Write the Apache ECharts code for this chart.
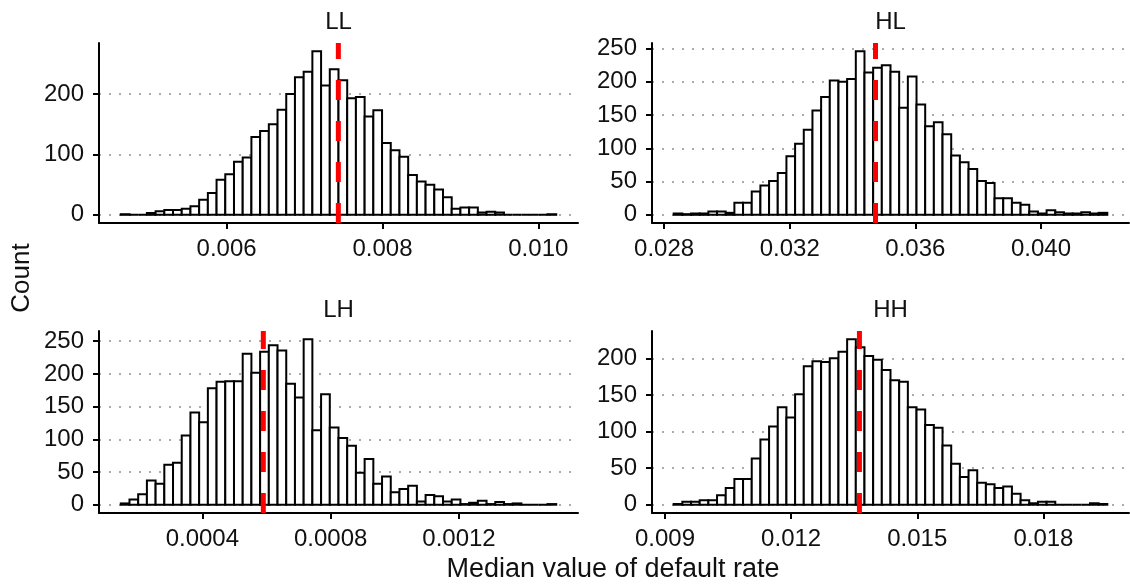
<!DOCTYPE html>
<html>
<head>
<meta charset="utf-8">
<script src="https://cdn.jsdelivr.net/npm/echarts@6/dist/echarts.min.js"></script>
<style>
  html, body { margin: 0; padding: 0; background: #ffffff; }
  #chart { width: 1130px; height: 586px; }
</style>
</head>
<body>
<div id="chart"></div>
<script>
// Bootstrap distributions of the median default rate, one histogram per group (50 bins each)
const panelNames = ['LL', 'HL', 'LH', 'HH'];

const llCounts = [1, 0, 0, 3, 6, 8, 8, 10, 14, 25, 36, 58, 67, 88, 95, 129, 139, 150, 174, 200,
  228, 237, 271, 214, 241, 223, 193, 195, 163, 173, 119, 107, 96, 66, 55, 50, 42, 29, 10, 12,
  12, 4, 5, 4, 0, 0, 0, 0, 0, 1];
const hlCounts = [2, 1, 2, 2, 5, 5, 3, 18, 18, 35, 44, 51, 63, 88, 107, 128, 157, 177, 202, 200,
  204, 246, 214, 221, 225, 215, 161, 208, 166, 133, 139, 121, 89, 79, 69, 51, 48, 25, 25, 18,
  15, 5, 2, 7, 4, 2, 2, 4, 2, 3];
const lhCounts = [2, 8, 16, 37, 32, 61, 64, 106, 141, 126, 178, 188, 189, 189, 231, 202, 234, 244, 236, 185,
  164, 253, 114, 169, 118, 102, 90, 49, 70, 32, 43, 19, 24, 29, 5, 15, 13, 5, 8, 1,
  3, 6, 1, 4, 1, 2, 0, 0, 0, 1];
const hhCounts = [1, 4, 4, 6, 6, 13, 23, 35, 35, 63, 89, 107, 133, 119, 151, 189, 196, 195, 200, 209,
  226, 215, 203, 198, 184, 170, 168, 133, 130, 109, 105, 81, 56, 38, 47, 30, 28, 23, 25, 15,
  6, 2, 4, 4, 0, 0, 0, 0, 2, 1];

// Range covered by the bins of each histogram
const llBinRange = [0.004642, 0.01023];
const hlBinRange = [0.028304, 0.042112];
const lhBinRange = [0.0001457, 0.001503];
const hhBinRange = [0.009206, 0.01952];

// Median of each distribution (red dashed line)
const llMedian = 0.007434;
const hlMedian = 0.03473;
const lhMedian = 0.00059;
const hhMedian = 0.013624;

// Axis ticks and their labels
const llXTicks = [0.006, 0.008, 0.010];
const llXLabels = ['0.006', '0.008', '0.010'];
const hlXTicks = [0.028, 0.032, 0.036, 0.040];
const hlXLabels = ['0.028', '0.032', '0.036', '0.040'];
const lhXTicks = [0.0004, 0.0008, 0.0012];
const lhXLabels = ['0.0004', '0.0008', '0.0012'];
const hhXTicks = [0.009, 0.012, 0.015, 0.018];
const hhXLabels = ['0.009', '0.012', '0.015', '0.018'];

const llYTicks = [0, 100, 200];
const hlYTicks = [0, 50, 100, 150, 200, 250];
const lhYTicks = [0, 50, 100, 150, 200, 250];
const hhYTicks = [0, 50, 100, 150, 200];

const xTitle = 'Median value of default rate';
const yTitle = 'Count';

const panels = [
  { name: panelNames[0], counts: llCounts, range: llBinRange, median: llMedian, xTicks: llXTicks, xLabels: llXLabels, yTicks: llYTicks },
  { name: panelNames[1], counts: hlCounts, range: hlBinRange, median: hlMedian, xTicks: hlXTicks, xLabels: hlXLabels, yTicks: hlYTicks },
  { name: panelNames[2], counts: lhCounts, range: lhBinRange, median: lhMedian, xTicks: lhXTicks, xLabels: lhXLabels, yTicks: lhYTicks },
  { name: panelNames[3], counts: hhCounts, range: hhBinRange, median: hhMedian, xTicks: hhXTicks, xLabels: hhXLabels, yTicks: hhYTicks }
];

// Panel boxes (2 x 2 facet layout)
const boxes = [
  { left: 99, top: 43, width: 479, height: 180 },
  { left: 652, top: 43, width: 477, height: 180 },
  { left: 99, top: 331, width: 479, height: 182 },
  { left: 652, top: 331, width: 477, height: 182 }
];

const FONT = '"Liberation Sans", Arial, Helvetica, sans-serif';
const INK = '#111111';

const grids = [], xAxes = [], yAxes = [], series = [], graphics = [];

panels.forEach((p, i) => {
  const n = p.counts.length;
  const bw = (p.range[1] - p.range[0]) / n;
  const bins = p.counts.map((c, k) => [p.range[0] + k * bw, p.range[0] + (k + 1) * bw, c]);
  const span = p.range[1] - p.range[0];
  const xMin = p.range[0] - 0.05 * span;
  const xMax = p.range[1] + 0.05 * span;
  const cMax = Math.max.apply(null, p.counts);
  const yMin = -0.05 * cMax;
  const yMax = 1.05 * cMax;

  grids.push(Object.assign({ containLabel: false }, boxes[i]));

  xAxes.push({
    type: 'value', gridIndex: i, min: xMin, max: xMax,
    axisLine: { onZero: false, lineStyle: { color: '#000', width: 2 } },
    axisTick: { customValues: p.xTicks, length: 6, lineStyle: { color: '#000', width: 2 } },
    axisLabel: {
      customValues: p.xTicks, margin: 14, fontSize: 24, fontFamily: FONT, color: INK,
      formatter: v => {
        let best = 0;
        p.xTicks.forEach((t, k) => { if (Math.abs(t - v) < Math.abs(p.xTicks[best] - v)) best = k; });
        return p.xLabels[best];
      }
    },
    splitLine: { show: false }
  });

  yAxes.push({
    type: 'value', gridIndex: i, min: yMin, max: yMax,
    axisLine: { show: true, onZero: false, lineStyle: { color: '#000', width: 2 } },
    axisTick: { show: true, customValues: p.yTicks, length: 6, lineStyle: { color: '#000', width: 2 } },
    axisLabel: { customValues: p.yTicks, margin: 15, fontSize: 24, fontFamily: FONT, color: INK },
    splitLine: { show: true, lineStyle: { color: '#ababab', width: 2, type: [2, 8] } }
  });

  series.push({
    type: 'custom', xAxisIndex: i, yAxisIndex: i,
    data: bins, encode: { x: [0, 1], y: 2 },
    silent: true, z: 2,
    renderItem: (params, api) => {
      const a = api.coord([api.value(0), 0]);
      const b = api.coord([api.value(1), api.value(2)]);
      return {
        type: 'rect',
        shape: { x: a[0], y: b[1], width: b[0] - a[0], height: a[1] - b[1] },
        style: { fill: '#ffffff', stroke: '#000000', lineWidth: 2 }
      };
    }
  });

  series.push({
    type: 'line', xAxisIndex: i, yAxisIndex: i,
    data: [[p.median, yMin], [p.median, yMax]],
    symbol: 'none', silent: true, z: 5,
    lineStyle: { color: '#ff0000', width: 5, type: [20, 21], cap: 'butt' }
  });

  graphics.push({
    type: 'text',
    x: boxes[i].left + boxes[i].width / 2,
    y: boxes[i].top - 21,
    style: { text: p.name, font: '24px ' + FONT, fill: INK, textAlign: 'center', textVerticalAlign: 'middle' }
  });
});

graphics.push({
  type: 'text', x: 613, y: 570,
  style: { text: xTitle, font: '27px ' + FONT, fill: INK, textAlign: 'center', textVerticalAlign: 'middle' }
});
graphics.push({
  type: 'text', x: 22, y: 278, rotation: Math.PI / 2,
  style: { text: yTitle, font: '26px ' + FONT, fill: INK, textAlign: 'center', textVerticalAlign: 'middle' }
});

const chart = echarts.init(document.getElementById('chart'), null, { renderer: 'canvas' });
chart.setOption({
  animation: false,
  backgroundColor: '#ffffff',
  grid: grids,
  xAxis: xAxes,
  yAxis: yAxes,
  series: series,
  graphic: graphics
});
</script>
</body>
</html>
